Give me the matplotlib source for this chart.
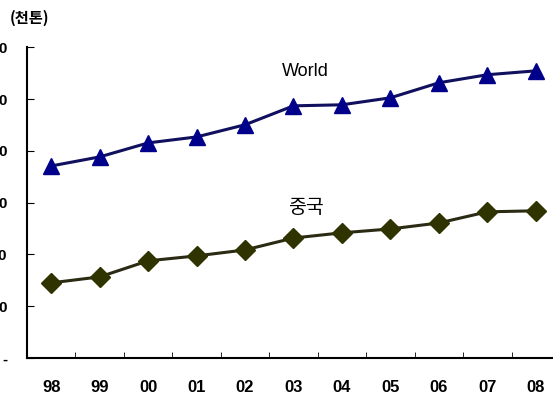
import matplotlib.pyplot as plt
from matplotlib.ticker import FixedLocator

years = ['98', '99', '00', '01', '02', '03', '04', '05', '06', '07', '08']
world = [741, 776, 830, 853, 900, 973, 977, 1004, 1062, 1093, 1108]
china = [290, 313, 375, 394, 417, 463, 483, 498, 521, 564, 568]
yticks = [0, 200, 400, 600, 800, 1000, 1200]
ylabels = ['-', '200', '400', '600', '800', '1,000', '1,200']

plt.rcParams['font.family'] = ['Liberation Sans Narrow', 'Liberation Sans', 'Noto Sans CJK KR', 'DejaVu Sans']

fig = plt.figure(figsize=(5.53, 4), dpi=100)
ax = fig.add_axes([27 / 553, 42 / 400, 533 / 553, 311 / 400])

x = list(range(len(years)))
ax.plot(x, world, color='#10105e', lw=2.2, marker='^', ms=12,
        mfc='#00008b', mec='#00008b', clip_on=False)
ax.plot(x, china, color='#2b2b14', lw=2.2, marker='D', ms=10,
        mfc='#2f3300', mec='#2f3300', clip_on=False)

ax.set_xlim(-0.5, 10.5)
ax.set_ylim(0, 1200)
ax.spines['top'].set_visible(False)
ax.spines['right'].set_visible(False)
ax.spines['left'].set_linewidth(1.5)
ax.spines['bottom'].set_linewidth(1.5)

ax.set_yticks(yticks)
ax.set_yticklabels(ylabels, fontsize=11, fontweight='bold')
ax.tick_params(axis='y', direction='in', length=5, pad=14)

ax.set_xticks(x)
ax.set_xticklabels(years, fontsize=12, fontweight='bold')
ax.tick_params(axis='x', which='major', length=0, pad=16)
ax.xaxis.set_minor_locator(FixedLocator([i + 0.5 for i in x[:-1]]))
ax.tick_params(axis='x', which='minor', direction='in', length=4)

ax.text(5.25, 1105, 'World', fontsize=13, ha='center', va='center',
        family=['Liberation Sans', 'DejaVu Sans'])
ax.text(5.25, 580, '중국', fontsize=14, ha='center', va='center',
        family=['Noto Sans CJK KR', 'DejaVu Sans'])
fig.text(10 / 553, 1 - 18 / 400, '(천톤)', fontsize=11, fontweight='bold',
         ha='left', va='center', family=['Noto Sans CJK KR', 'DejaVu Sans'])

fig.savefig('out.png', dpi=100)
